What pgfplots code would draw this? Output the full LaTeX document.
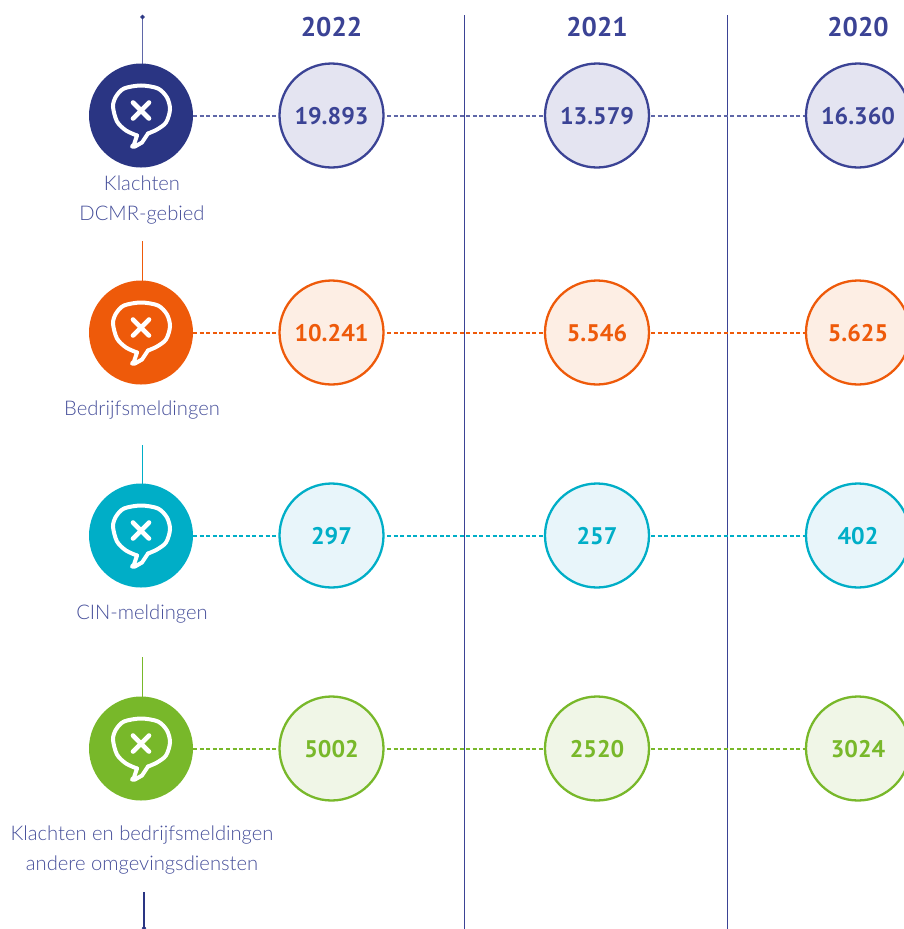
\documentclass[border=0pt]{standalone}
\usepackage{fontspec}
\setmainfont{PT Sans}
\newfontfamily\labelfont{Lato Light}
\usepackage{pgfplots}
\pgfplotsset{compat=1.18}
\usepackage{pgfplotstable}

\definecolor{navy}{HTML}{2A3583}
\definecolor{ringA}{HTML}{3B4395}
\definecolor{stemA}{HTML}{5F67A8}
\definecolor{fillA}{HTML}{E4E4F1}
\definecolor{ringB}{HTML}{EE5A0A}
\definecolor{fillB}{HTML}{FDEEE4}
\definecolor{ringC}{HTML}{00AEC7}
\definecolor{fillC}{HTML}{E8F5FA}
\definecolor{ringD}{HTML}{78B82A}
\definecolor{fillD}{HTML}{F0F6E7}
\definecolor{labelc}{HTML}{464F9A}

% speech bubble outline, relative to the centre of the big dot (x 141, y of row)
\pgfplotstableread{
x y
137 20
126 15
117 6
113 -9
116 -19
124 -27
141 -30
158 -27
167 -18
170 -6
166 7
157 14
148 18
}\bubble
\pgfplotstableread{
x y
137 20
134 29
132 31
135 31
142 27
148 18
}\tail

% row: ring, fill, dot, dash colour, y, three values
\newcommand{\row}[8]{
  \addplot[#4, line width=1.6pt, dash pattern=on 4pt off 2.6pt] coordinates {(193,#5+0.4) (279,#5+0.4)};
  \addplot[#4, line width=1.6pt, dash pattern=on 4pt off 2.6pt] coordinates {(387,#5+0.4) (544,#5+0.4)};
  \addplot[#4, line width=1.6pt, dash pattern=on 4pt off 2.6pt] coordinates {(651,#5+0.4) (805,#5+0.4)};
  \addplot[only marks, mark=*, mark size=52pt, mark options={draw=#1, fill=#2, line width=2.3pt},
    point meta=explicit symbolic, nodes near coords,
    nodes near coords style={anchor=center, yshift=-1pt, text=#1, font=\fontsize{24}{24}\selectfont\bfseries}]
    coordinates {(331.5,#5)[#6] (597,#5)[#7] (858,#5)[#8]};
  % big dot as a round-capped stroke, so that the icon can lie on top of it
  \addplot[#3, line width=104pt, line cap=round] coordinates {(141,#5) (141,#5+0.01)};
  \addplot[white, line width=4pt, smooth, line cap=round] table[x=x, y expr=\thisrow{y}+#5] {\bubble};
  \addplot[white, line width=4pt, line join=round, line cap=round] table[x=x, y expr=\thisrow{y}+#5] {\tail};
  \addplot[white, line width=4.6pt, line cap=round] coordinates {(133,#5-13) (149,#5+3)};
  \addplot[white, line width=4.6pt, line cap=round] coordinates {(149,#5-13) (133,#5+3)};
}

\begin{document}
\begin{tikzpicture}
\path[use as bounding box] (0,0) rectangle (904pt,929pt);
\begin{axis}[
  at={(0,0)}, anchor=south west,
  scale only axis, width=904pt, height=929pt,
  xmin=0, xmax=904, ymin=0, ymax=929, y dir=reverse,
  hide axis,
  every node/.append style={inner sep=0pt},
]
% year separators
\addplot[ringA, line width=1pt] coordinates {(464,15) (464,929)};
\addplot[ringA, line width=1pt] coordinates {(727,15) (727,929)};

% stems between the rows
\addplot[stemA, line width=1.6pt] coordinates {(142.5,17) (142.5,64)};
\addplot[only marks, mark=*, mark size=1.9pt, mark options={draw=navy, fill=navy, line width=0.5pt}] coordinates {(142.5,17)};
\addplot[ringB, line width=1.1pt] coordinates {(142.5,241) (142.5,282)};
\addplot[ringC, line width=1.1pt] coordinates {(142.5,445) (142.5,484)};
\addplot[ringD, line width=1.1pt] coordinates {(142.5,657) (142.5,698)};
\addplot[navy, line width=1.4pt] coordinates {(144,892) (144,929)};
\addplot[only marks, mark=*, mark size=1.9pt, mark options={draw=navy, fill=navy, line width=0.5pt}] coordinates {(144,928)};

\row{ringA}{fillA}{navy}{stemA}{115.5}{19.893}{13.579}{16.360}
\row{ringB}{fillB}{ringB}{ringB}{332.5}{10.241}{5.546}{5.625}
\row{ringC}{fillC}{ringC}{ringC}{535.5}{297}{257}{402}
\row{ringD}{fillD}{ringD}{ringD}{748.5}{5002}{2520}{3024}

% year headers
\addplot[only marks, mark=none, point meta=explicit symbolic, nodes near coords,
  nodes near coords style={anchor=center, text=ringA, font=\fontsize{27}{27}\selectfont\bfseries}]
  coordinates {(331.5,27)[2022] (597,27)[2021] (858,27)[2020]};

% row names
\begin{scope}[every node/.style={anchor=base, text=labelc, font=\labelfont\fontsize{20.2}{20.2}\selectfont}]
\node at (axis cs:142,190) {Klachten};
\node at (axis cs:142,220) {DCMR-gebied};
\node at (axis cs:142,415) {Bedrijfsmeldingen};
\node at (axis cs:142,619) {CIN-meldingen};
\node at (axis cs:142,840) {Klachten en bedrijfsmeldingen};
\node at (axis cs:142,870) {andere omgevingsdiensten};
\end{scope}
\end{axis}
\end{tikzpicture}
\end{document}
